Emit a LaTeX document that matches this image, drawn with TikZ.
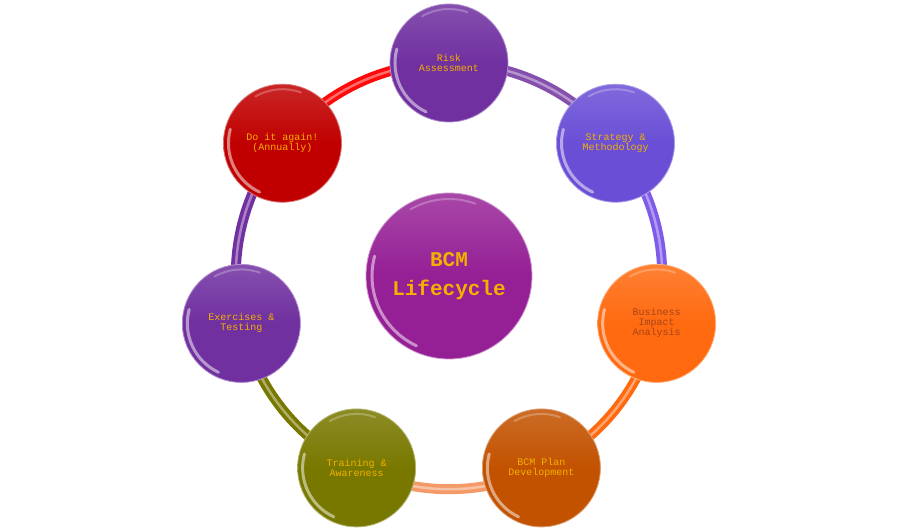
\documentclass[tikz,border=0pt]{standalone}
\usepackage{fontspec}
\setmonofont{Liberation Mono}
\usepackage{xcolor}
\usetikzlibrary{backgrounds}

\definecolor{riskpurple}{HTML}{7030A0}
\definecolor{stratblue}{HTML}{6A4FD6}
\definecolor{biaorange}{HTML}{FF6A10}
\definecolor{planorange}{HTML}{C25200}
\definecolor{trainolive}{HTML}{787800}
\definecolor{exerpurple}{HTML}{7030A0}
\definecolor{againred}{HTML}{C00000}
\definecolor{coremagenta}{HTML}{951F95}
\definecolor{phasetext}{HTML}{F2B000}
\definecolor{biatext}{HTML}{A84418}
\definecolor{ringviolet}{HTML}{7E5BE8}
\definecolor{ringsalmon}{HTML}{F49A68}
\definecolor{ringred}{HTML}{FF0A0A}

\tikzset{
  gloss/.style={
    path picture={
      \draw[white, opacity=0.5, line width=3pt, line cap=round]
        ([shift={(165:#1)}]path picture bounding box.center) arc (165:245:#1);
      \draw[white, opacity=0.25, line width=2pt, line cap=round]
        ([shift={(70:#1)}]path picture bounding box.center) arc (70:120:#1);
    }
  },
  phaseball/.style={
    circle, minimum size=118pt, inner sep=0pt, align=center,
    font=\ttfamily\fontsize{10}{10}\selectfont, text=phasetext,
    top color=#1!85!white, bottom color=#1, middle color=#1,
    draw=#1!55!white, line width=0.8pt, gloss=54pt
  },
  coreball/.style={
    circle, minimum size=166pt, inner sep=0pt, align=center,
    font=\ttfamily\bfseries\fontsize{21}{29}\selectfont, text=phasetext,
    top color=#1!82!white, bottom color=#1, middle color=#1,
    draw=#1!45!white, line width=0.8pt, gloss=77pt
  },
  ringarc/.style={
    draw=#1, line width=10pt,
    postaction={draw=white, line width=2.5pt, opacity=0.4}
  },
}

\begin{document}
\begin{tikzpicture}[x=1pt, y=1pt]
  \useasboundingbox (-449,-254) rectangle (451,276);

  % Centre
  \node[coreball=coremagenta] (core) at (0,0) {BCM\\Lifecycle};

  % Lifecycle phases
  \node[phaseball=riskpurple] (risk) at (90:213) {Risk\\Assessment};
  \node[phaseball=stratblue] (strategy) at (38.57:213) {Strategy \&\\Methodology};
  \node[phaseball=biaorange, text=biatext] (bia) at (-12.86:213)
    {Business\\Impact\\Analysis};
  \node[phaseball=planorange] (plan) at (-64.29:213) {BCM Plan\\Development};
  \node[phaseball=trainolive] (training) at (-115.71:213) {Training \&\\Awareness};
  \node[phaseball=exerpurple] (exercises) at (-167.14:213) {Exercises \&\\Testing};
  \node[phaseball=againred] (again) at (141.43:213) {Do it again!\\(Annually)};

  % Ring
  \begin{scope}[on background layer, looseness=0.9]
    \draw[ringarc=riskpurple!85!white] (risk.center) to[bend left=26] (strategy.center);
    \draw[ringarc=ringviolet] (strategy.center) to[bend left=26] (bia.center);
    \draw[ringarc=biaorange] (bia.center) to[bend left=26] (plan.center);
    \draw[ringarc=ringsalmon] (plan.center) to[bend left=26] (training.center);
    \draw[ringarc=trainolive] (training.center) to[bend left=26] (exercises.center);
    \draw[ringarc=exerpurple] (exercises.center) to[bend left=26] (again.center);
    \draw[ringarc=ringred] (again.center) to[bend left=26] (risk.center);
  \end{scope}
\end{tikzpicture}
\end{document}
